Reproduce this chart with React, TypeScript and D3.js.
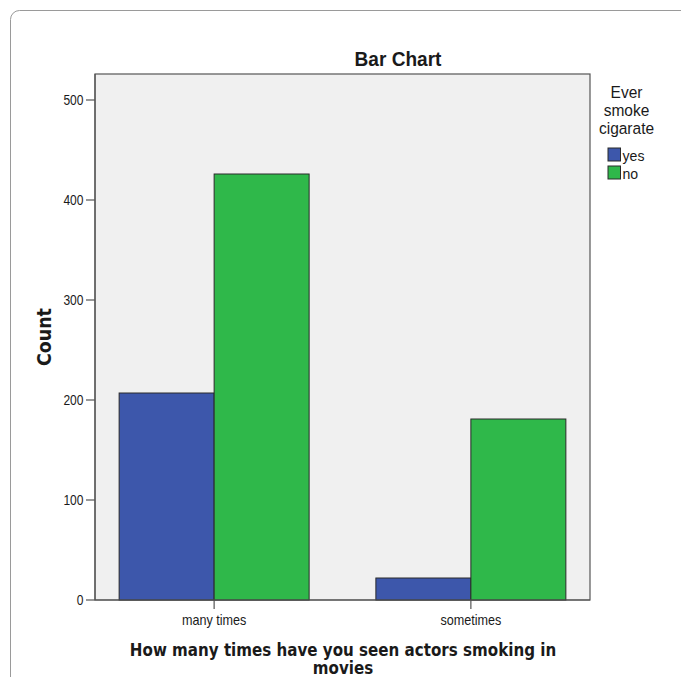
import React from "react";
import * as d3 from "d3";

const categories = ["many times", "sometimes"];
const seriesNames = ["yes", "no"];
const yesValues = [207, 22];
const noValues = [426, 181];
const yTicks = [0, 100, 200, 300, 400, 500];
const legendTitle = ["Ever", "smoke", "cigarate"];
const colors = ["#3d57ab", "#2fb84a"];

const sans = "'Liberation Sans', Arial, sans-serif";
const dv = "'DejaVu Sans', Verdana, sans-serif";

function T(props: { x: number; y: number; sx?: number; rot?: number; anchor?: string; size: number; bold?: boolean; family?: string; children: React.ReactNode }) {
  const { x, y, sx = 0.9, rot = 0, anchor = "start", size, bold, family = sans, children } = props;
  return (
    <text
      transform={`translate(${x},${y}) rotate(${rot}) scale(${sx},1)`}
      textAnchor={anchor as any}
      fontFamily={family}
      fontWeight={bold ? "bold" : "normal"}
      fontSize={size}
      fill="#1a1a1a"
    >
      {children}
    </text>
  );
}

export default function App() {
  const W = 681, H = 677;
  const left = 95, right = 590, top = 74, bottom = 600;
  const x = d3.scaleBand<string>().domain(categories).range([left, right]).paddingInner(0.26).paddingOuter(0.094);
  const x1 = d3.scaleBand<string>().domain(seriesNames).range([0, x.bandwidth()]);
  const y = d3.scaleLinear().domain([0, 526]).range([bottom, top]);
  const series = [yesValues, noValues];
  return (
    <svg width={W} height={H} style={{ position: "absolute", left: 0, top: 0, display: "block" }}>
      <rect x={0} y={0} width={W} height={H} fill="#fff" />
      <rect x={10.5} y={10.5} width={800} height={800} rx={9} fill="#fff" stroke="#9a9a9a" strokeWidth={1} />
      <rect x={left} y={top} width={right - left} height={bottom - top} fill="#f0f0f0" stroke="#555" strokeWidth={1.2} />
      {categories.map((c, i) =>
        series.map((vals, s) => {
          const bx = (x(c) as number) + (x1(seriesNames[s]) as number);
          return (
            <rect key={c + s} x={bx} y={y(vals[i])} width={x1.bandwidth()} height={y(0) - y(vals[i])}
              fill={colors[s]} stroke="#2a2a2a" strokeWidth={1} />
          );
        })
      )}
      <line x1={left} x2={left} y1={top} y2={bottom} stroke="#555" strokeWidth={1.2} />
      <line x1={left} x2={right} y1={bottom} y2={bottom} stroke="#555" strokeWidth={1.2} />
      {yTicks.map((t) => (
        <g key={t}>
          <line x1={left - 9} x2={left} y1={y(t)} y2={y(t)} stroke="#555" strokeWidth={1.2} />
          <T x={left - 11.5} y={y(t) + 5} anchor="end" size={14} sx={0.86}>{t}</T>
        </g>
      ))}
      {categories.map((c) => {
        const cx = (x(c) as number) + x.bandwidth() / 2;
        return (
          <g key={c}>
            <line x1={cx} x2={cx} y1={bottom} y2={bottom + 9} stroke="#555" strokeWidth={1.2} />
            <T x={cx} y={625} anchor="middle" size={14} sx={0.9}>{c}</T>
          </g>
        );
      })}
      <T x={398} y={66} anchor="middle" size={20.5} sx={0.93} bold>Bar Chart</T>
      <T x={50.5} y={337} rot={-90} anchor="middle" size={20} sx={0.87} bold family={dv}>Count</T>
      <T x={343} y={655.5} anchor="middle" size={18} sx={0.84} bold family={dv}>How many times have you seen actors smoking in</T>
      <T x={343} y={674} anchor="middle" size={18} sx={0.84} bold family={dv}>movies</T>
      {legendTitle.map((t, i) => (
        <T key={t} x={626.5} y={98 + i * 18} anchor="middle" size={16.5} sx={0.94}>{t}</T>
      ))}
      {seriesNames.map((n, i) => (
        <g key={n}>
          <rect x={608} y={148 + i * 18} width={12.5} height={13} fill={colors[i]} stroke="#2a2a2a" strokeWidth={1} />
          <T x={622.5} y={160.5 + i * 18} size={15} sx={0.94}>{n}</T>
        </g>
      ))}
    </svg>
  );
}
